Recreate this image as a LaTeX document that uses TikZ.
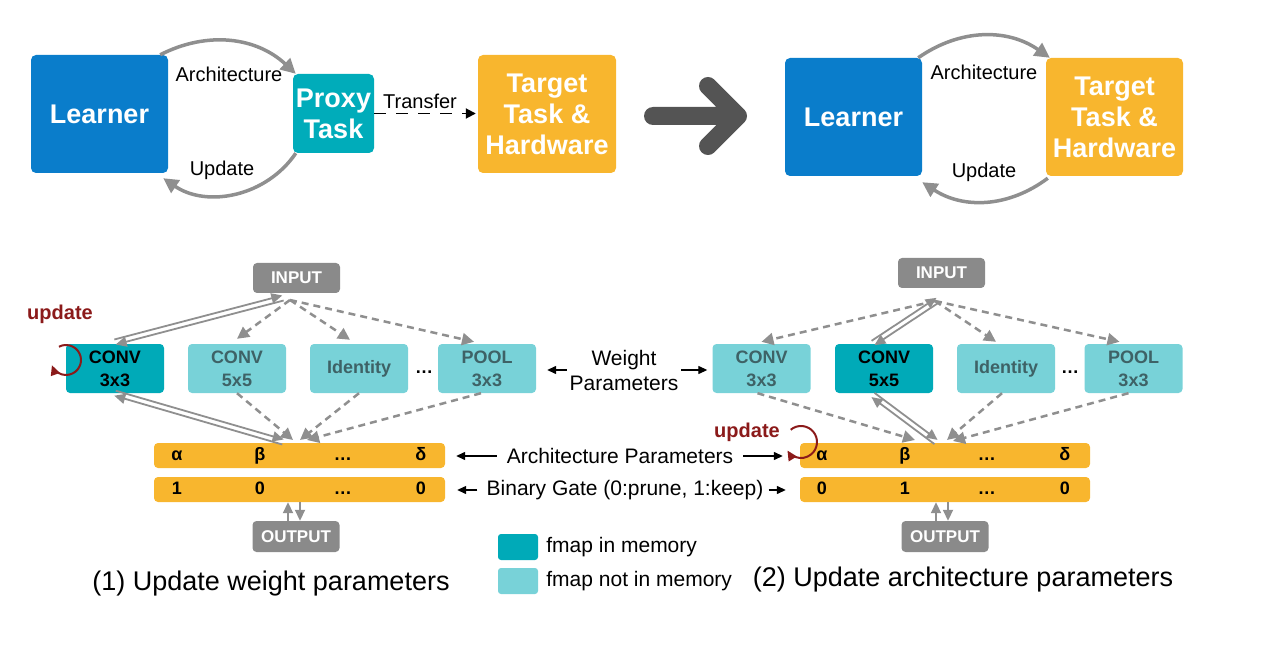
\documentclass[tikz,border=0pt]{standalone}
\usepackage{fontspec}
\setmainfont{Liberation Sans}
\usepackage{tikz}
\usetikzlibrary{arrows.meta,positioning,calc}

\definecolor{learnblue}{RGB}{10,125,203}
\definecolor{proxyteal}{RGB}{0,172,186}
\definecolor{fmapon}{RGB}{0,170,184}
\definecolor{fmapoff}{RGB}{120,210,216}
\definecolor{targetgold}{RGB}{248,182,46}
\definecolor{boxgrey}{RGB}{138,138,138}
\definecolor{flowgrey}{RGB}{143,143,143}
\definecolor{bigarrow}{RGB}{84,84,84}
\definecolor{updred}{RGB}{139,26,26}
\definecolor{optext}{RGB}{62,98,102}

% two parallel lines, one arrow each way
\newcommand{\twoway}[2]{%
  \draw[pair] ($(#1)!2.6pt!90:(#2)$) -- ($(#2)!2.6pt!-90:(#1)$);
  \draw[pair] ($(#2)!2.6pt!90:(#1)$) -- ($(#1)!2.6pt!-90:(#2)$);
}

\begin{document}
\begin{tikzpicture}[x=1pt,y=1pt]

	\tikzstyle{block}=[
		rectangle,
		rounded corners=5pt,
		minimum width=137pt,
		minimum height=118pt,
		inner sep=0pt,
		text=white,
		align=center,
		font=\fontsize{27}{31}\selectfont\bfseries
	]
	\tikzstyle{op}=[rectangle, rounded corners=4pt, minimum width=98pt, minimum height=49pt, inner sep=0pt,
		fill=fmapoff, text=optext, align=center, font=\fontsize{18}{23}\selectfont\bfseries]
	\tikzstyle{opon}=[op, fill=fmapon, text=black]
	\tikzstyle{io}=[rectangle, rounded corners=4pt, minimum width=87pt, minimum height=30pt, inner sep=0pt,
		fill=boxgrey, text=white, font=\fontsize{17}{20}\selectfont\bfseries]
	\tikzstyle{bar}=[rectangle, rounded corners=4pt, minimum width=291pt, minimum height=25pt, inner sep=0pt, fill=targetgold]
	\tikzstyle{cell}=[inner sep=0pt, text height=13pt, text depth=4pt, font=\fontsize{18}{20}\selectfont\bfseries]
	\tikzstyle{lbl}=[inner sep=1pt, font=\fontsize{20}{24}\selectfont]
	\tikzstyle{note}=[inner sep=0pt, align=center, font=\fontsize{21}{25}\selectfont]
	\tikzstyle{captxt}=[inner sep=0pt, font=\fontsize{27}{31}\selectfont]
	\tikzstyle{updtxt}=[inner sep=0pt, text=updred, font=\fontsize{20}{24}\selectfont\bfseries]
	\tikzstyle{trip}=[draw=flowgrey, line width=3.5pt, -{Triangle[length=15pt,width=15pt]}]
	\tikzstyle{flow}=[draw=flowgrey, line width=2.5pt, dash pattern=on 7pt off 5pt, -{Triangle[length=12pt,width=12pt]}]
	\tikzstyle{pair}=[draw=flowgrey, line width=1.8pt, -{Triangle[length=11pt,width=10pt]}]
	\tikzstyle{hint}=[draw=black, line width=1.3pt, -{Triangle[length=9pt,width=8pt]}]
	\tikzstyle{upd}=[draw=updred, line width=2pt, -{Triangle[length=10pt,width=9pt]}]

	\useasboundingbox (0,0) rectangle (1261,-668);

	% top: proxy based search
	\node [block, fill=learnblue] (L1) at (99.5,-114) {Learner};
	\node [block, fill=proxyteal, minimum width=81pt, minimum height=79pt] (P1) at (333.5,-113.5) {Proxy\\Task};
	\node [block, fill=targetgold, minimum width=138pt] (T1) at (547,-114) {Target\\Task \&\\Hardware};

	\draw[trip] ([xshift=-8pt]L1.north east) to[bend left=35] ([xshift=3pt]P1.north west);
	\draw[trip] ([xshift=3pt]P1.south west) to[bend left=45] ([xshift=-5pt,yshift=-5pt]L1.south east);
	\node [lbl] (arch1) at (229,-74) {Architecture};
	\node [lbl] (upd1) at (222,-170) {Update};

	\draw[draw=black, line width=1.8pt, dash pattern=on 12pt off 10pt, -{Triangle[length=10pt,width=10pt]}]
		(P1.east) -- ([xshift=-2pt]T1.west |- P1.east);
	\node [lbl] (xf) at (420,-101) {Transfer};

	% big arrow
	\draw[bigarrow, line width=18pt, line cap=round, line join=round]
		(653,-116) -- (738,-116) (708,-86) -- (738,-116) -- (708,-146);

	% top: direct search
	\node [block, fill=learnblue] (L2) at (853.5,-117) {Learner};
	\node [block, fill=targetgold] (T2) at (1114.5,-117) {Target\\Task \&\\Hardware};

	\draw[trip] ([xshift=-4pt]L2.north east) to[bend left=35] ([xshift=4pt]T2.north west);
	\draw[trip] ([xshift=2pt,yshift=-2pt]T2.south west) to[bend left=35] ([yshift=-6pt]L2.south east);
	\node [lbl] (arch2) at (984,-72) {Architecture};
	\node [lbl] (upd2) at (984,-172) {Update};

	% (1) weight update
	\node [io] (inA) at (296.5,-278) {INPUT};
	\node [opon] (c3A) at (115,-368.5) {CONV\\3x3};
	\node [op] (c5A) at (237,-368.5) {CONV\\5x5};
	\node [op] (idA) at (359,-368.5) {Identity};
	\node [cell] (dotA) at (424,-369) {\ldots};
	\node [op] (plA) at (487,-368.5) {POOL\\3x3};
	\node [bar] (arA) at (299.5,-455.5) {};
	\node [bar] (gtA) at (299.5,-489.5) {};
	\node [io, minimum height=31pt] (outA) at (296,-536.5) {OUTPUT};

	\foreach \t/\dx [count=\i] in {α/23, β/106, \ldots/189, δ/267}
		\node [cell] (arA\i) at ([xshift=\dx pt]arA.west) {\t};
	\foreach \t/\dx [count=\i] in {1/23, 0/106, \ldots/189, 0/267}
		\node [cell] (gtA\i) at ([xshift=\dx pt]gtA.west) {\t};

	\coordinate (fA) at (290,-300);
	\coordinate (fA2) at (283,-298);
	\coordinate (tA) at (115,-342);
	\twoway{tA}{fA2}
	\draw[flow] (fA) -- ([yshift=5pt]c5A.north);
	\draw[flow] (fA) -- ([xshift=-9pt,yshift=4pt]idA.north);
	\draw[flow] (fA) -- ([xshift=-13pt,yshift=2pt]plA.north);

	\coordinate (jA1) at (283,-442);
	\coordinate (jA2) at (293,-440);
	\coordinate (jA3) at (300,-440);
	\coordinate (jA4) at (307,-440);
	\twoway{jA1}{c3A.south}
	\draw[flow] (c5A.south) -- (jA2);
	\draw[flow] (idA.south) -- (jA3);
	\draw[flow] ([xshift=-6pt]plA.south) -- (jA4);

	\draw[pair] ([xshift=-8pt]outA.north) -- ([xshift=-8pt]outA.north |- gtA.south);
	\draw[pair] ([xshift=4pt]outA.north |- gtA.south) -- ([xshift=4pt]outA.north);

	\node [updtxt] (updA) at (60,-314) {update};
	\coordinate (ctrA) at (66,-360);
	\draw[upd] (ctrA) ++(118:15) arc[start angle=118, end angle=-160, radius=15];

	% (2) architecture update
	\node [io] (inB) at (941.5,-273) {INPUT};
	\node [op] (c3B) at (761.5,-368.5) {CONV\\3x3};
	\node [opon] (c5B) at (884,-368.5) {CONV\\5x5};
	\node [op] (idB) at (1006,-368.5) {Identity};
	\node [cell] (dotB) at (1070,-369) {\ldots};
	\node [op] (plB) at (1133.5,-368.5) {POOL\\3x3};
	\node [bar, minimum width=290pt] (arB) at (945,-455.5) {};
	\node [bar, minimum width=290pt] (gtB) at (945,-489.5) {};
	\node [io, minimum height=31pt] (outB) at (945,-536.5) {OUTPUT};

	\foreach \t/\dx [count=\i] in {α/22, β/105, \ldots/187, δ/265}
		\node [cell] (arB\i) at ([xshift=\dx pt]arB.west) {\t};
	\foreach \t/\dx [count=\i] in {0/22, 1/105, \ldots/187, 0/265}
		\node [cell] (gtB\i) at ([xshift=\dx pt]gtB.west) {\t};

	\coordinate (fB) at (935,-301);
	\coordinate (fB2) at (938,-300);
	\coordinate (tB) at (873,-343);
	\twoway{tB}{fB2}
	\draw[flow] (fB) -- ([yshift=2pt]c3B.north);
	\draw[flow] (fB) -- ([xshift=-10pt,yshift=2pt]idB.north);
	\draw[flow] (fB) -- ([xshift=-14pt,yshift=2pt]plB.north);

	\coordinate (bB) at (873,-395);
	\coordinate (jB1) at (915,-440);
	\coordinate (jB2) at (936,-442);
	\coordinate (jB3) at (947,-440);
	\coordinate (jB4) at (953,-441);
	\twoway{jB2}{bB}
	\draw[flow] ([xshift=-4pt]c3B.south) -- (jB1);
	\draw[flow] ([xshift=-4pt]idB.south) -- (jB3);
	\draw[flow] ([xshift=-5pt]plB.south) -- (jB4);

	\draw[pair] ([xshift=-9pt]outB.north) -- ([xshift=-9pt]outB.north |- gtB.south);
	\draw[pair] ([xshift=3pt]outB.north |- gtB.south) -- ([xshift=3pt]outB.north);

	\node [updtxt] (updB) at (747,-432) {update};
	\coordinate (ctrB) at (801,-442);
	\draw[upd] (ctrB) ++(130:16) arc[start angle=130, end angle=-148, radius=16];

	% labels in the middle
	\node [note, inner sep=1pt] (wp) at (624,-370) {Weight\\Parameters};
	\draw[hint] ([xshift=-2pt]wp.west) -- ([xshift=11pt]plA.east |- wp.west);
	\draw[hint] ([xshift=2pt]wp.east) -- ([xshift=-5pt]c3B.west |- wp.east);

	\node [note] (ap) at (620,-456) {Architecture Parameters};
	\draw[hint] ([xshift=-10pt]ap.west) -- ([xshift=11pt]arA.east |- ap.west);
	\draw[hint] ([xshift=10pt]ap.east) -- ([xshift=-17pt]arB.west |- ap.east);

	\node [note] (bg) at (625,-490) {Binary Gate (0:prune, 1:keep)};
	\draw[hint] ([xshift=-9pt]bg.west) -- ([xshift=12pt]gtA.east |- bg.west);
	\draw[hint] ([xshift=5pt]bg.east) -- ([xshift=-14pt]gtB.west |- bg.east);

	% legend
	\node [rectangle, rounded corners=3pt, fill=fmapon, minimum width=40pt, minimum height=26pt, inner sep=0pt] (keyOn) at (518,-547) {};
	\node [rectangle, rounded corners=3pt, fill=fmapoff, minimum width=40pt, minimum height=26pt, inner sep=0pt] (keyOff) at (518,-581) {};
	\node [note, right=8pt of keyOn] (keyOnTxt) {fmap in memory};
	\node [note, right=8pt of keyOff] (keyOffTxt) {fmap not in memory};

	% captions
	\node [captxt] (capA) at (271,-584) {(1) Update weight parameters};
	\node [captxt] (capB) at (963,-580) {(2) Update architecture parameters};

\end{tikzpicture}
\end{document}
